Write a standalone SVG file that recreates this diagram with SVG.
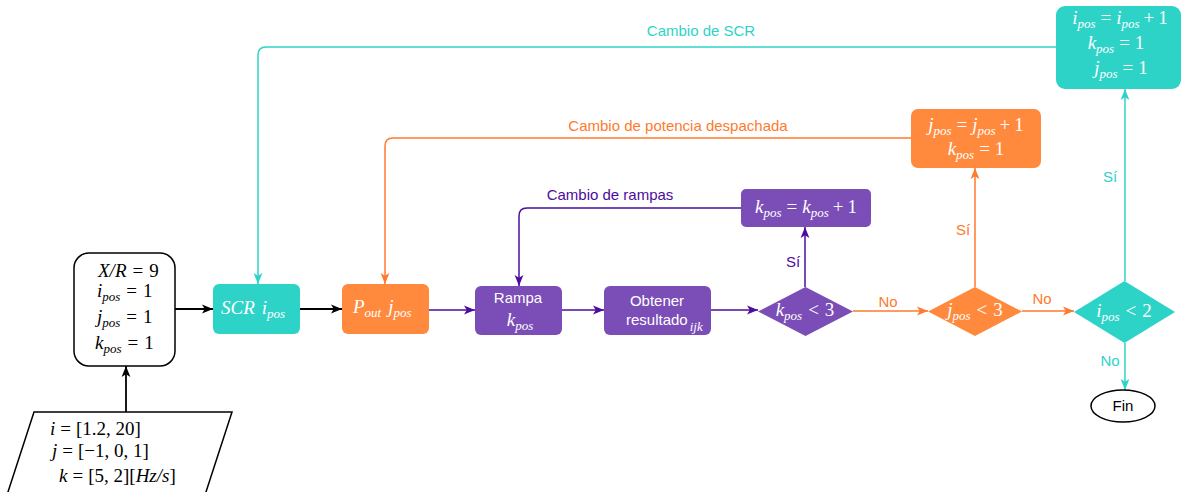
<svg xmlns="http://www.w3.org/2000/svg" width="1181" height="492" viewBox="0 0 1181 492">
<style>
.m{font-family:"Liberation Serif","DejaVu Serif",serif;font-style:italic;font-size:19px;}
.n{font-style:normal;}
.sb{font-size:13px;}
.w{fill:#ffffff;}
.k{fill:#000000;}
.s{font-family:"Liberation Sans",Arial,sans-serif;font-size:15px;}
.teal{fill:#2ED3C8;}
.org{fill:#FF8A3D;}
.pur{fill:#7B4DB6;}
.ln{fill:none;stroke-width:1.5;}
</style>
<defs>
<marker id="ak" viewBox="0 0 10 10" refX="10" refY="5" markerWidth="11" markerHeight="11" markerUnits="userSpaceOnUse" orient="auto"><path d="M0,1 L10,5 L0,9 L2.5,5 z" fill="#000"/></marker>
<marker id="ap" viewBox="0 0 10 10" refX="10" refY="5" markerWidth="11" markerHeight="11" markerUnits="userSpaceOnUse" orient="auto"><path d="M0,1 L10,5 L0,9 L2.5,5 z" fill="#4C0C9E"/></marker>
<marker id="ao" viewBox="0 0 10 10" refX="10" refY="5" markerWidth="11" markerHeight="11" markerUnits="userSpaceOnUse" orient="auto"><path d="M0,1 L10,5 L0,9 L2.5,5 z" fill="#FF7A2C"/></marker>
<marker id="at" viewBox="0 0 10 10" refX="10" refY="5" markerWidth="11" markerHeight="11" markerUnits="userSpaceOnUse" orient="auto"><path d="M0,1 L10,5 L0,9 L2.5,5 z" fill="#2ED3C8"/></marker>
</defs>
<rect width="1181" height="492" fill="#ffffff"/>

<g id="connectors">
<path d="M126,412 V366" stroke="#000" stroke-width="1.8" fill="none" marker-end="url(#ak)"/>
<path d="M175,309 H213" stroke="#000" stroke-width="1.8" fill="none" marker-end="url(#ak)"/>
<path d="M300,309 H342" stroke="#000" stroke-width="1.8" fill="none" marker-end="url(#ak)"/>
<path class="ln" stroke="#4C0C9E" d="M429,310 H475" marker-end="url(#ap)"/>
<path class="ln" stroke="#4C0C9E" d="M562,310 H604" marker-end="url(#ap)"/>
<path class="ln" stroke="#4C0C9E" d="M711,310 H758" marker-end="url(#ap)"/>
<path class="ln" stroke="#4C0C9E" d="M805,287 V227" marker-end="url(#ap)"/>
<path class="ln" stroke="#4C0C9E" d="M741,208 H527 Q519,208 519,216 V286" marker-end="url(#ap)"/>
<path class="ln" stroke="#FF7A2C" d="M853,311 H928" marker-end="url(#ao)"/>
<path class="ln" stroke="#FF7A2C" d="M1022,311 H1074" marker-end="url(#ao)"/>
<path class="ln" stroke="#FF7A2C" d="M975,287 V168" marker-end="url(#ao)"/>
<path class="ln" stroke="#FF7A2C" d="M911,138 H393 Q385,138 385,146 V284" marker-end="url(#ao)"/>
<path class="ln" stroke="#2ED3C8" d="M1125,281 V89" marker-end="url(#at)"/>
<path class="ln" stroke="#2ED3C8" d="M1125,343 V390" marker-end="url(#at)"/>
<path class="ln" stroke="#2ED3C8" d="M1056,47 H266 Q258,47 258,55 V284" marker-end="url(#at)"/>
<text class="s" x="701" y="36" text-anchor="middle" fill="#2ED3C8">Cambio de SCR</text>
<text class="s" x="678" y="131" text-anchor="middle" fill="#FF7A2C">Cambio de potencia despachada</text>
<text class="s" x="610" y="200" text-anchor="middle" fill="#4C0C9E">Cambio de rampas</text>
<text class="s" x="793" y="267" text-anchor="middle" fill="#4C0C9E">Sí</text>
<text class="s" x="888" y="307" text-anchor="middle" fill="#FF7A2C">No</text>
<text class="s" x="963" y="235" text-anchor="middle" fill="#FF7A2C">Sí</text>
<text class="s" x="1042" y="304" text-anchor="middle" fill="#FF7A2C">No</text>
<text class="s" x="1110" y="182" text-anchor="middle" fill="#2ED3C8">Sí</text>
<text class="s" x="1110" y="366" text-anchor="middle" fill="#2ED3C8">No</text>
</g>

<g id="input">
<path d="M34,412 H232 L205,495 H7 Z" fill="#fff" stroke="#000" stroke-width="1.5"/>
<text class="m k" x="50" y="435">i<tspan class="n" dx="5">=</tspan><tspan class="n" dx="5">[1.2, 20]</tspan></text>
<text class="m k" x="52" y="457">j<tspan class="n" dx="5">=</tspan><tspan class="n" dx="5">[−1, 0, 1]</tspan></text>
<text class="m k" x="59" y="482">k<tspan class="n" dx="5">=</tspan><tspan class="n" dx="5">[5, 2][</tspan>Hz/s<tspan class="n">]</tspan></text>
</g>

<g id="init">
<rect x="74" y="253" width="101" height="113" rx="15" fill="#fff" stroke="#000" stroke-width="1.5"/>
<text class="m k" x="98" y="277">X/R<tspan class="n" dx="6">=</tspan><tspan class="n" dx="6">9</tspan></text>
<text class="m k" x="97" y="297">i<tspan class="sb" dy="4">pos</tspan><tspan class="n" dy="-4" dx="6">=</tspan><tspan class="n" dx="6">1</tspan></text>
<text class="m k" x="97" y="323">j<tspan class="sb" dy="4">pos</tspan><tspan class="n" dy="-4" dx="6">=</tspan><tspan class="n" dx="6">1</tspan></text>
<text class="m k" x="95" y="349">k<tspan class="sb" dy="4">pos</tspan><tspan class="n" dy="-4" dx="6">=</tspan><tspan class="n" dx="6">1</tspan></text>
</g>

<g id="scr">
<rect class="teal" x="213" y="284" width="87" height="50" rx="6"/>
<text class="m w" x="221" y="314">SCR<tspan dx="7">i</tspan><tspan class="sb" dy="4">pos</tspan></text>
</g>

<g id="pout">
<rect class="org" x="342" y="284" width="87" height="50" rx="6"/>
<text class="m w" x="353" y="313">P<tspan class="sb" dy="4">out</tspan><tspan dy="-4" dx="7">j</tspan><tspan class="sb" dy="4">pos</tspan></text>
</g>

<g id="rampa">
<rect class="pur" x="475" y="286" width="87" height="49" rx="6"/>
<text class="s w" x="518" y="303" text-anchor="middle">Rampa</text>
<text class="m w" x="520" y="326" text-anchor="middle">k<tspan class="sb" dy="4">pos</tspan></text>
</g>

<g id="obtener">
<rect class="pur" x="604" y="286" width="107" height="49" rx="6"/>
<text class="s w" x="657" y="306" text-anchor="middle">Obtener</text>
<text class="s w" x="626" y="325">resultado<tspan class="m sb" dx="2" dy="6">ijk</tspan></text>
</g>

<g id="kdec">
<path class="pur" d="M758,311.5 L805.5,287 L853,311.5 L805.5,336 Z"/>
<text class="m w" x="805" y="316" text-anchor="middle">k<tspan class="sb" dy="4">pos</tspan><tspan class="n" dy="-4" dx="6">&lt;</tspan><tspan class="n" dx="6">3</tspan></text>
</g>

<g id="kinc">
<rect class="pur" x="741" y="189" width="130" height="38" rx="5"/>
<text class="m w" x="806" y="213" text-anchor="middle">k<tspan class="sb" dy="4">pos</tspan><tspan class="n" dy="-4" dx="5">=</tspan><tspan dx="5">k</tspan><tspan class="sb" dy="4">pos</tspan><tspan class="n" dy="-4" dx="4">+</tspan><tspan class="n" dx="4">1</tspan></text>
</g>

<g id="jdec">
<path class="org" d="M928,311.5 L975,287 L1022,311.5 L975,336 Z"/>
<text class="m w" x="975" y="316" text-anchor="middle">j<tspan class="sb" dy="4">pos</tspan><tspan class="n" dy="-4" dx="6">&lt;</tspan><tspan class="n" dx="6">3</tspan></text>
</g>

<g id="jinc">
<rect class="org" x="911" y="109" width="130" height="59" rx="7"/>
<text class="m w" x="976" y="131" text-anchor="middle">j<tspan class="sb" dy="4">pos</tspan><tspan class="n" dy="-4" dx="5">=</tspan><tspan dx="5">j</tspan><tspan class="sb" dy="4">pos</tspan><tspan class="n" dy="-4" dx="4">+</tspan><tspan class="n" dx="4">1</tspan></text>
<text class="m w" x="976" y="155" text-anchor="middle">k<tspan class="sb" dy="4">pos</tspan><tspan class="n" dy="-4" dx="5">=</tspan><tspan class="n" dx="5">1</tspan></text>
</g>

<g id="idec">
<path class="teal" d="M1074,312 L1124.5,281 L1175,312 L1124.5,343 Z"/>
<text class="m w" x="1124" y="317" text-anchor="middle">i<tspan class="sb" dy="4">pos</tspan><tspan class="n" dy="-4" dx="6">&lt;</tspan><tspan class="n" dx="6">2</tspan></text>
</g>

<g id="iinc">
<rect class="teal" x="1056" y="6" width="125" height="83" rx="9"/>
<text class="m w" x="1120" y="24" text-anchor="middle">i<tspan class="sb" dy="4">pos</tspan><tspan class="n" dy="-4" dx="5">=</tspan><tspan dx="5">i</tspan><tspan class="sb" dy="4">pos</tspan><tspan class="n" dy="-4" dx="4">+</tspan><tspan class="n" dx="4">1</tspan></text>
<text class="m w" x="1116" y="49" text-anchor="middle">k<tspan class="sb" dy="4">pos</tspan><tspan class="n" dy="-4" dx="5">=</tspan><tspan class="n" dx="5">1</tspan></text>
<text class="m w" x="1121" y="74" text-anchor="middle">j<tspan class="sb" dy="4">pos</tspan><tspan class="n" dy="-4" dx="5">=</tspan><tspan class="n" dx="5">1</tspan></text>
</g>

<g id="fin">
<ellipse cx="1123" cy="406" rx="32" ry="16" fill="#fff" stroke="#000" stroke-width="1.5"/>
<text class="s k" x="1123" y="411" text-anchor="middle">Fin</text>
</g>
</svg>
